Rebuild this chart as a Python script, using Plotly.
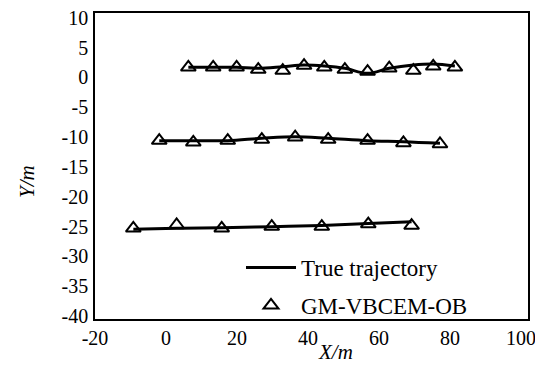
import plotly.graph_objects as go

# Data
x_top = [6.3, 13.3, 19.9, 26.0, 32.9, 38.9, 44.6, 50.4, 56.8, 62.9, 69.7, 75.3, 81.4]
y_top_true = [1.70, 1.70, 1.70, 1.53, 1.80, 2.08, 1.92, 1.53, 0.69, 1.53, 2.08, 2.25, 1.92]
y_top_est = [1.70, 1.70, 1.70, 1.31, 1.14, 1.99, 1.70, 1.31, 0.98, 1.54, 1.14, 1.87, 1.70]

x_mid = [-1.9, 7.7, 17.4, 27.0, 36.4, 45.7, 56.8, 66.9, 77.2]
y_mid_true = [-10.60, -10.60, -10.60, -10.20, -9.94, -10.20, -10.60, -10.78, -11.05]
y_mid_est = [-10.58, -10.88, -10.58, -10.42, -10.03, -10.42, -10.58, -10.99, -11.16]

x_bot = [-9.2, 3.0, 15.7, 29.8, 43.9, 57.0, 69.2]
y_bot_true = [-25.46, -25.29, -25.21, -25.03, -24.81, -24.51, -24.20]
y_bot_est = [-25.29, -24.74, -25.29, -25.01, -25.01, -24.58, -24.84]

x_ticks = [-20, 0, 20, 40, 60, 80, 100]
y_ticks = [10, 5, 0, -5, -10, -15, -20, -25, -30, -35, -40]

FONT = "Liberation Serif"

# page has an 8px body margin; work in page pixels and convert
OFF = 8
W, H = 543 - OFF, 369 - OFF
PL, PR, PT, PB = 95, 528, 13, 319          # plot frame in page pixels
L, R, T, B = PL - OFF, 543 - PR, PT - OFF, 369 - PB
pw, ph = PR - PL, PB - PT


def px(xp):
    return (xp - PL) / pw


def py(yp):
    return (PB - yp) / ph


fig = go.Figure()
rows = [(x_top, y_top_true, y_top_est), (x_mid, y_mid_true, y_mid_est), (x_bot, y_bot_true, y_bot_est)]
for i, (xs, yt, ye) in enumerate(rows):
    fig.add_trace(go.Scatter(
        x=xs, y=yt, mode="lines", line=dict(color="black", width=3, shape="spline"),
        name="True trajectory", legendgroup="true", showlegend=(i == 0)))
for i, (xs, yt, ye) in enumerate(rows):
    fig.add_trace(go.Scatter(
        x=xs, y=ye, mode="markers",
        marker=dict(symbol="triangle-up-open", size=13, color="black", line=dict(width=2, color="black")),
        name="GM-VBCEM-OB", legendgroup="est", showlegend=(i == 0)))

fig.update_layout(
    width=W, height=H,
    margin=dict(l=L, r=R, t=T, b=B, autoexpand=False),
    paper_bgcolor="white", plot_bgcolor="white",
    font=dict(family=FONT, size=20, color="black"),
    showlegend=True,
    legend=dict(x=px(241), y=py(246), xanchor="left", yanchor="top",
                bgcolor="rgba(0,0,0,0)", borderwidth=0,
                font=dict(family=FONT, size=23, color="black"),
                tracegroupgap=5, itemwidth=50),
    xaxis=dict(range=[-20, 102], tickvals=x_ticks, ticktext=[str(v) for v in x_ticks],
               showgrid=False, zeroline=False, showline=True, linecolor="black",
               linewidth=1.5, mirror=True, ticks="", automargin=False,
               ticklabeloverflow="allow", tickfont=dict(family=FONT, size=20)),
    yaxis=dict(range=[-40.5, 10.8], tickvals=y_ticks, ticktext=[str(v) for v in y_ticks],
               showgrid=False, zeroline=False, showline=True, linecolor="black",
               linewidth=1.5, mirror=True, ticks="", automargin=False,
               ticklabeloverflow="allow", tickfont=dict(family=FONT, size=20),
               ticklabelstandoff=1),
)
fig.add_annotation(text="<i>X/m</i>", x=px(335), y=py(352), xref="paper", yref="paper",
                   showarrow=False, font=dict(family=FONT, size=21), xanchor="center", yanchor="middle")
fig.add_annotation(text="<i>Y/m</i>", x=px(27), y=py(182), xref="paper", yref="paper",
                   showarrow=False, textangle=-90, font=dict(family=FONT, size=21),
                   xanchor="center", yanchor="middle")

fig.write_html("out.html")
